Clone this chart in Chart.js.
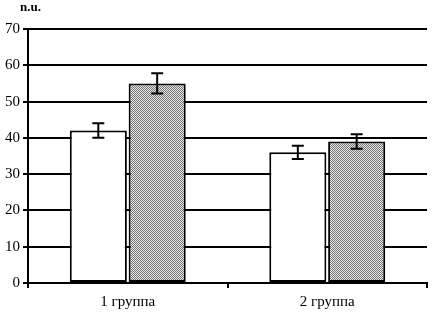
<!DOCTYPE html>
<html><head><meta charset="utf-8">
<script src="https://cdn.jsdelivr.net/npm/chart.js@4/dist/chart.umd.min.js"></script>
<style>html,body{margin:0;padding:0;background:#fff}#c{display:block}</style>
</head><body>
<canvas id="c" width="432" height="316"></canvas>
<script>
const categories = ["1 группа", "2 группа"];
const seriesA = [42, 36];
const errA = [2, 1.8];
const seriesB = [55, 39];
const errB = [2.8, 2];
const yTicks = [0, 10, 20, 30, 40, 50, 60, 70];
const yLabel = "n.u.";

function makePattern() {
  const p = document.createElement('canvas');
  p.width = 4; p.height = 4;
  const g = p.getContext('2d');
  g.fillStyle = '#e6e6e6'; g.fillRect(0,0,4,4);
  g.fillStyle = '#777';
  g.fillRect(0,0,1,1); g.fillRect(2,0,1,1); g.fillRect(1,1,1,1); g.fillRect(3,1,1,1);
  g.fillRect(0,2,1,1); g.fillRect(2,2,1,1); g.fillRect(1,3,1,1); g.fillRect(3,3,1,1);
  return g.createPattern(p, 'repeat');
}
const ctx = document.getElementById('c').getContext('2d');
const pattern = makePattern();

const errPlugin = {
  id: 'err',
  afterDatasetsDraw(chart) {
    const c = chart.ctx, y = chart.scales.y;
    const errs = [errA, errB];
    chart.data.datasets.forEach((ds, i) => {
      const meta = chart.getDatasetMeta(i);
      meta.data.forEach((bar, j) => {
        const v = ds.data[j], e = errs[i][j];
        const top = y.getPixelForValue(v + e), bot = y.getPixelForValue(v - e);
        const x = bar.x;
        c.save();
        c.strokeStyle = '#000'; c.lineWidth = 2;
        c.beginPath();
        c.moveTo(x, top); c.lineTo(x, bot);
        c.moveTo(x - 6, top); c.lineTo(x + 6, top);
        c.moveTo(x - 6, bot); c.lineTo(x + 6, bot);
        c.stroke();
        c.restore();
      });
    });
    c.save();
    c.fillStyle = '#000';
    c.font = 'bold 13px "Liberation Serif"';
    c.textBaseline = 'top';
    c.fillText(yLabel, 20, 1);
    c.restore();
  }
};

new Chart(ctx, {
  type: 'bar',
  data: {
    labels: categories,
    datasets: [
      { data: seriesA, backgroundColor: '#fff', borderColor: '#000', borderWidth: 2, borderSkipped: false },
      { data: seriesB, backgroundColor: pattern, borderColor: '#000', borderWidth: 2, borderSkipped: false }
    ]
  },
  options: {
    responsive: false,
    animation: false,
    devicePixelRatio: 1,
    layout: { padding: { top: 29, right: 5, left: 0, bottom: 0 } },
    plugins: { legend: { display: false }, tooltip: { enabled: false } },
    datasets: { bar: { categoryPercentage: 0.59, barPercentage: 0.97 } },
    scales: {
      x: {
        grid: { offset: true, drawOnChartArea: false, color: '#000', lineWidth: 2, tickLength: 5 },
        border: { color: '#000', width: 2 },
        ticks: { color: '#000', font: { family: 'Liberation Serif', size: 15 }, padding: 5 }
      },
      y: {
        min: 0, max: 70,
        afterFit(s) { s.width = 28; },
        afterBuildTicks(s) { s.ticks = yTicks.map(v => ({ value: v })); },
        grid: { color: '#000', lineWidth: 2, tickLength: 5 },
        border: { color: '#000', width: 2 },
        ticks: { color: '#000', font: { family: 'Liberation Serif', size: 15 }, padding: 3 }
      }
    }
  },
  plugins: [errPlugin]
});
</script>
</body></html>
